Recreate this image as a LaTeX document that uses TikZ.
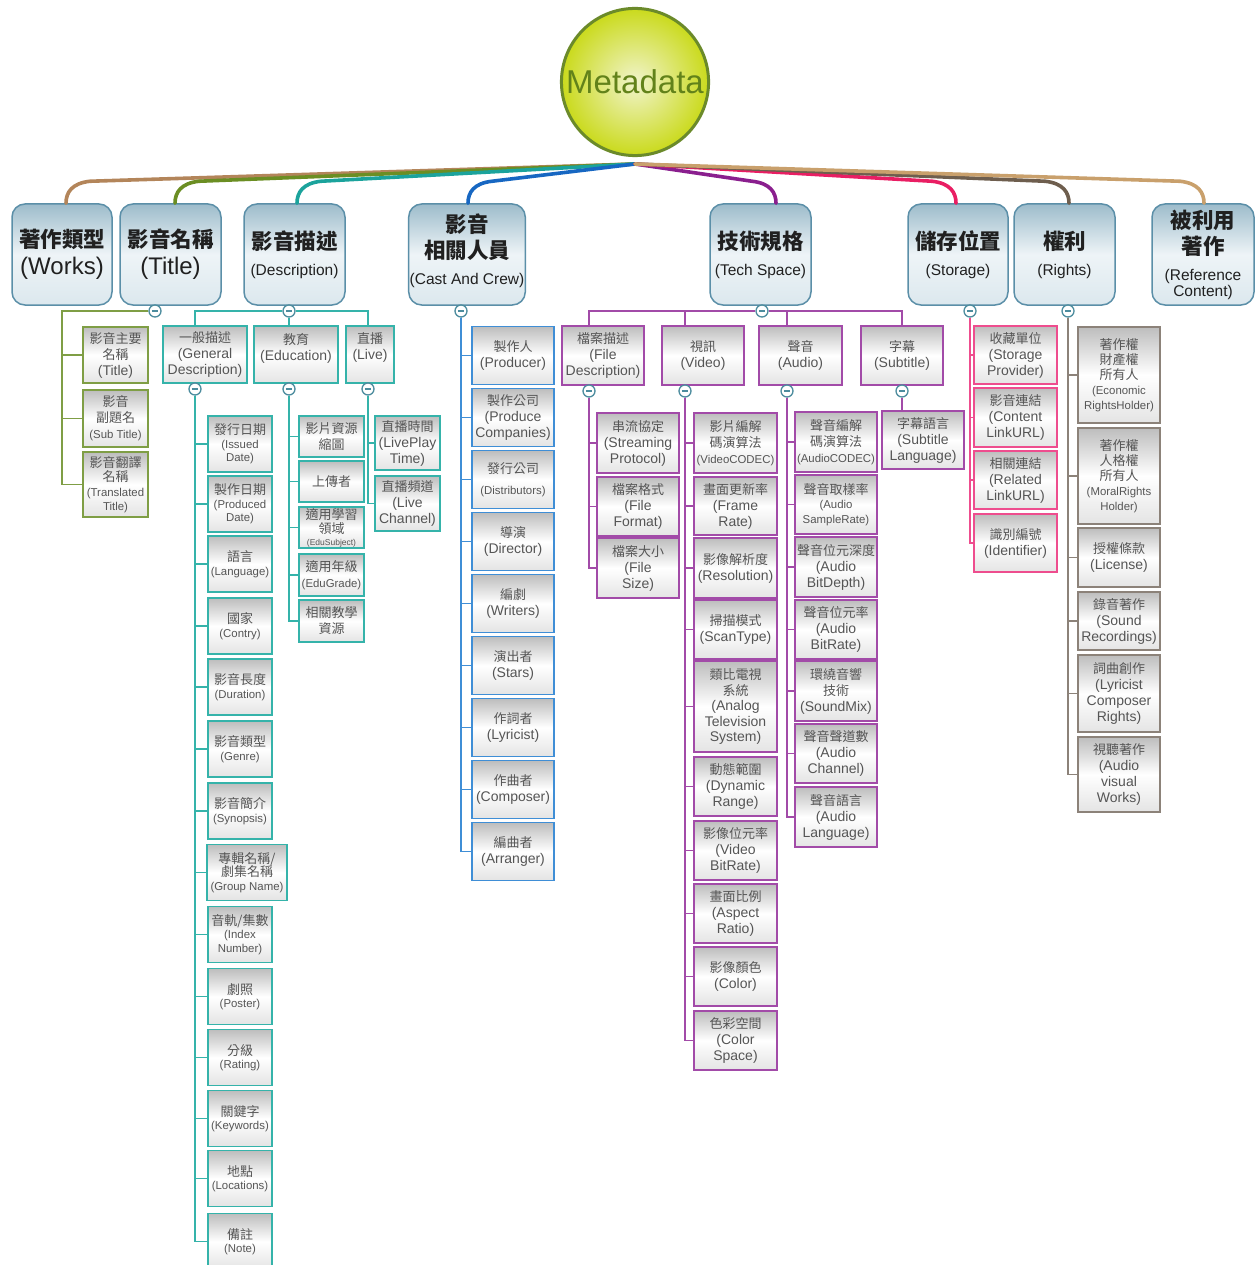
\documentclass[tikz,border=0pt]{standalone}
\usepackage{fontspec}
\setmainfont{Liberation Sans}
\newfontfamily\cjk{Noto Sans CJK TC}
\usetikzlibrary{calc}

% palette
\definecolor{txtgrey}{HTML}{555555}
\definecolor{toptxt}{HTML}{202020}
\definecolor{topedge}{HTML}{5B8FA8}
\definecolor{toptop}{HTML}{9DBCCB}
\definecolor{topmid}{HTML}{EEF4F7}
\definecolor{topbot}{HTML}{DCE8EE}
\definecolor{leaftop}{HTML}{BDBDBD}
\definecolor{leafbot}{HTML}{E4E4E4}
\definecolor{cWorks}{HTML}{B3855A}
\definecolor{cTitle}{HTML}{6B8E23}
\definecolor{cTitleL}{HTML}{7F9E45}
\definecolor{cDesc}{HTML}{1BA39C}
\definecolor{cDescL}{HTML}{35B3AA}
\definecolor{cCast}{HTML}{1767C2}
\definecolor{cCastL}{HTML}{3F8ED6}
\definecolor{cTech}{HTML}{8A1F8E}
\definecolor{cTechL}{HTML}{A24BA8}
\definecolor{cStor}{HTML}{E91E63}
\definecolor{cStorL}{HTML}{EE4D8E}
\definecolor{cRight}{HTML}{6E5E4E}
\definecolor{cRightL}{HTML}{8C8279}
\definecolor{cRef}{HTML}{C9A06C}
\definecolor{togedge}{HTML}{4C8C9E}
\definecolor{metaedge}{HTML}{6B8A2A}
\definecolor{metain}{HTML}{F1F4CC}
\definecolor{metaout}{HTML}{CADA1C}
\definecolor{metatext}{HTML}{62821A}

% text helpers
\newcommand\zl[1]{{\cjk\fontsize{13}{15}\selectfont #1}}
\newcommand\zt[1]{{\cjk\bfseries\fontsize{21.5}{26}\selectfont #1}}
\newcommand\es[1]{{\fontsize{11.4}{13}\selectfont #1}}
\newcommand\et[1]{{\fontsize{8.5}{10}\selectfont #1}}

% curved branch from the root point down into a top-level box
% #1 colour, #2 box, #3 x offset of entry, #4 side (1 = box left of root, -1 = right)
\newcommand\rootbranch[4]{%
  \draw[rootcurve,#1] (root) -- ($(#2.north)+({#3+(#4)*24},-22)$)
    .. controls ($(#2.north)+({#3+(#4)*6},-20)$) and ($(#2.north)+({#3},-11)$)
    .. ($(#2.north)+({#3},0)$);}

\tikzset{
  topbox/.style={draw=topedge, line width=1.5pt, rounded corners=13pt,
    top color=toptop, bottom color=topbot, middle color=topmid,
    minimum height=101pt, align=center, inner sep=1pt, text=toptxt,
    font=\fontsize{15.5}{26}\selectfont},
  leafbox/.style={draw=#1, line width=1.6pt,
    top color=leaftop, bottom color=leafbot, middle color=white,
    align=center, inner sep=1pt, text=txtgrey,
    font=\fontsize{14}{16}\selectfont},
  smallfont/.style={font=\fontsize{11.4}{13.5}\selectfont},
  togglebtn/.style={circle, draw=togedge, fill=white, line width=1.3pt,
    minimum size=12pt, inner sep=0pt,
    path picture={\draw[togedge, line width=1.4pt]
      ([xshift=2.8pt]path picture bounding box.west) --
      ([xshift=-2.8pt]path picture bounding box.east);}},
  rootcurve/.style={line width=3.6pt, line cap=round},
  treeline/.style={draw=#1, line width=1.6pt},
  tl/.style={leafbox=cTitleL, minimum width=65pt},
  dl/.style={leafbox=cDescL},
  gl/.style={leafbox=cDescL, smallfont, minimum width=64pt, minimum height=56pt},
  el/.style={leafbox=cDescL, minimum width=65pt},
  cl/.style={leafbox=cCastL, minimum width=82pt, minimum height=58pt},
  xl/.style={leafbox=cTechL, minimum width=82pt},
  sl/.style={leafbox=cStorL, minimum width=83pt},
  rl/.style={leafbox=cRightL, minimum width=82pt},
}

\begin{document}
\begin{tikzpicture}[x=1pt,y=-1pt]
\useasboundingbox (0,0) rectangle (1257,1265);
\fill[white] (0,0) rectangle (1257,1265);

% root
\node[circle, minimum size=145pt, draw=metaedge, line width=3pt,
  inner color=metain, outer color=metaout, text=metatext,
  font=\fontsize{33}{36}\selectfont] (meta) at (635,82) {Metadata};
\coordinate (root) at (635,164);

% top-level boxes
\node[topbox, minimum width=100pt, font=\fontsize{24}{27}\selectfont] (works) at (62,254.5) {\zt{著作類型}\\(Works)};
\node[topbox, minimum width=101pt, font=\fontsize{24}{27}\selectfont] (title) at (170.5,254.5) {\zt{影音名稱}\\(Title)};
\node[topbox, minimum width=101pt] (desc) at (294.5,254.5) {\zt{影音描述}\\(Description)};
\node[topbox, minimum width=116pt] (cast) at (467,254.5) {\zt{影音}\\\zt{相關人員}\\(Cast And Crew)\\[-16pt]\phantom{X}};
\node[topbox, minimum width=101pt] (tech) at (760.5,254.5) {\zt{技術規格}\\(Tech Space)};
\node[topbox, minimum width=100pt] (stor) at (958,254.5) {\zt{儲存位置}\\(Storage)};
\node[topbox, minimum width=101pt] (rights) at (1064.5,254.5) {\zt{權利}\\(Rights)};
\node[topbox, minimum width=102pt] (ref) at (1203,254.5) {\zt{被利用}\\\zt{著作}\\(Reference\\[-10pt]Content)};

% branches from the root
\rootbranch{cWorks}{works}{4}{1}
\rootbranch{cTitle}{title}{4.5}{1}
\rootbranch{cDesc}{desc}{2.5}{1}
\rootbranch{cCast}{cast}{1}{1}
\rootbranch{cTech}{tech}{15.5}{-1}
\rootbranch{cStor}{stor}{-2}{-1}
\rootbranch{cRight}{rights}{4.5}{-1}
\rootbranch{cRef}{ref}{1}{-1}

% ---- Title
\node[tl, minimum height=56pt] (t1) at (115.5,355) {\zl{影音主要}\\\zl{名稱}\\(Title)};
\node[tl, minimum height=57pt] (t2) at (115.5,418.5) {\zl{影音}\\\zl{副題名}\\\es{(Sub Title)}};
\node[tl, minimum height=65pt, font=\fontsize{14}{14.5}\selectfont] (t3) at (115.5,484.5) {\zl{影音翻譯}\\\zl{名稱}\\\es{(Translated}\\\es{Title)}};

% ---- Description
\node[dl, minimum width=84pt, minimum height=57pt] (gd) at (205,354.5) {\zl{一般描述}\\(General\\Description)};
\node[dl, minimum width=84pt, minimum height=57pt] (edu) at (296,354.5) {\zl{教育}\\(Education)\\\phantom{X}};
\node[dl, minimum width=48pt, minimum height=57pt] (live) at (370,354.5) {\zl{直播}\\(Live)\\\phantom{X}};

\node[gl] (g1) at (240,444) {\zl{發行日期}\\(Issued\\Date)};
\node[gl] (g2) at (240,504) {\zl{製作日期}\\(Produced\\Date)};
\node[gl] (g3) at (240,564) {\zl{語言}\\(Language)};
\node[gl] (g4) at (240,626) {\zl{國家}\\(Contry)};
\node[gl] (g5) at (240,687) {\zl{影音長度}\\(Duration)};
\node[gl] (g6) at (240,749) {\zl{影音類型}\\(Genre)};
\node[gl] (g7) at (240,811) {\zl{影音簡介}\\(Synopsis)};
\node[gl, minimum width=80pt] (g8) at (247,872.5) {\zl{專輯名稱/}\\\zl{劇集名稱}\\(Group Name)};
\node[gl] (g9) at (240,934.5) {\zl{音軌/集數}\\(Index\\Number)};
\node[gl] (g10) at (240,996.5) {\zl{劇照}\\(Poster)};
\node[gl] (g11) at (240,1057.5) {\zl{分級}\\(Rating)};
\node[gl] (g12) at (240,1118.5) {\zl{關鍵字}\\(Keywords)};
\node[gl] (g13) at (240,1178.5) {\zl{地點}\\(Locations)};
\node[gl] (g14) at (240,1241.5) {\zl{備註}\\(Note)};

\node[el, minimum height=41pt] (e1) at (331.5,436.5) {\zl{影片資源}\\\zl{縮圖}};
\node[el, minimum height=41pt] (e2) at (331.5,481.5) {\zl{上傳者}};
\node[el, minimum height=41pt, font=\fontsize{14}{14.5}\selectfont] (e3) at (331.5,527.5) {\zl{適用學習}\\\zl{領域}\\[-3pt]\et{(EduSubject)}};
\node[el, minimum height=42pt] (e4) at (331.5,575) {\zl{適用年級}\\\es{(EduGrade)}};
\node[el, minimum height=42pt] (e5) at (331.5,621) {\zl{相關教學}\\\zl{資源}};

\node[el, minimum height=54pt] (l1) at (407.5,443) {\zl{直播時間}\\(LivePlay\\Time)};
\node[el, minimum height=55pt] (l2) at (407.5,503.5) {\zl{直播頻道}\\(Live\\Channel)};

% ---- Cast and crew
\node[cl] (c1) at (513,355.5) {\zl{製作人}\\(Producer)};
\node[cl] (c2) at (513,417.5) {\zl{製作公司}\\(Produce\\Companies)};
\node[cl] (c3) at (513,479.5) {\zl{發行公司}\\[5pt]\es{(Distributors)}};
\node[cl] (c4) at (513,541.5) {\zl{導演}\\(Director)};
\node[cl] (c5) at (513,603.5) {\zl{編劇}\\(Writers)};
\node[cl] (c6) at (513,665.5) {\zl{演出者}\\(Stars)};
\node[cl] (c7) at (513,727.5) {\zl{作詞者}\\(Lyricist)};
\node[cl] (c8) at (513,789.5) {\zl{作曲者}\\(Composer)};
\node[cl] (c9) at (513,851.5) {\zl{編曲者}\\(Arranger)};

% ---- Tech space
\node[xl, minimum height=59pt] (fd) at (603,355.5) {\zl{檔案描述}\\(File\\Description)};
\node[xl, minimum height=59pt] (vid) at (703,355.5) {\zl{視訊}\\(Video)};
\node[xl, minimum height=59pt, minimum width=83pt] (aud) at (800.5,355.5) {\zl{聲音}\\(Audio)};
\node[xl, minimum height=59pt] (sub) at (902,355.5) {\zl{字幕}\\(Subtitle)};

\node[xl, minimum height=60pt] (f1) at (638,443) {\zl{串流協定}\\(Streaming\\Protocol)};
\node[xl, minimum height=59pt] (f2) at (638,506.5) {\zl{檔案格式}\\(File\\Format)};
\node[xl, minimum height=60pt] (f3) at (638,568) {\zl{檔案大小}\\(File\\Size)};

\node[xl, minimum width=83pt, minimum height=60pt] (v1) at (735.5,443) {\zl{影片編解}\\\zl{碼演算法}\\\es{(VideoCODEC)}};
\node[xl, minimum width=83pt, minimum height=58pt] (v2) at (735.5,506) {\zl{畫面更新率}\\(Frame\\Rate)};
\node[xl, minimum width=83pt, minimum height=60pt] (v3) at (735.5,568) {\zl{影像解析度}\\(Resolution)};
\node[xl, minimum width=83pt, minimum height=59pt] (v4) at (735.5,629.5) {\zl{掃描模式}\\(ScanType)};
\node[xl, minimum width=83pt, minimum height=91pt, font=\fontsize{14}{15.5}\selectfont] (v5) at (735.5,706.5) {\zl{類比電視}\\\zl{系統}\\(Analog\\Television\\System)};
\node[xl, minimum width=83pt, minimum height=59pt] (v6) at (735.5,786.5) {\zl{動態範圍}\\(Dynamic\\Range)};
\node[xl, minimum width=83pt, minimum height=59pt] (v7) at (735.5,850.5) {\zl{影像位元率}\\(Video\\BitRate)};
\node[xl, minimum width=83pt, minimum height=59pt] (v8) at (735.5,913.5) {\zl{畫面比例}\\(Aspect\\Ratio)};
\node[xl, minimum width=83pt, minimum height=59pt] (v9) at (735.5,976.5) {\zl{影像顏色}\\(Color)};
\node[xl, minimum width=83pt, minimum height=59pt] (v10) at (735.5,1040.5) {\zl{色彩空間}\\(Color\\Space)};

\node[xl, minimum height=60pt] (a1) at (836,442) {\zl{聲音編解}\\\zl{碼演算法}\\\es{(AudioCODEC)}};
\node[xl, minimum height=59pt, font=\fontsize{14}{14.5}\selectfont] (a2) at (836,504.5) {\zl{聲音取樣率}\\\es{(Audio}\\\es{SampleRate)}};
\node[xl, minimum height=60pt] (a3) at (836,567) {\zl{聲音位元深度}\\(Audio\\BitDepth)};
\node[xl, minimum height=59pt] (a4) at (836,629.5) {\zl{聲音位元率}\\(Audio\\BitRate)};
\node[xl, minimum height=60pt] (a5) at (836,691) {\zl{環繞音響}\\\zl{技術}\\(SoundMix)};
\node[xl, minimum height=59pt] (a6) at (836,753.5) {\zl{聲音聲道數}\\(Audio\\Channel)};
\node[xl, minimum height=60pt] (a7) at (836,817) {\zl{聲音語言}\\(Audio\\Language)};

\node[xl, minimum height=58pt] (s0) at (923,440) {\zl{字幕語言}\\(Subtitle\\Language)};

% ---- Storage
\node[sl, minimum height=58pt] (s1) at (1015.5,355) {\zl{收藏單位}\\(Storage\\Provider)};
\node[sl, minimum height=59pt] (s2) at (1015.5,417.5) {\zl{影音連結}\\(Content\\LinkURL)};
\node[sl, minimum height=58pt] (s3) at (1015.5,480) {\zl{相關連結}\\(Related\\LinkURL)};
\node[sl, minimum height=58pt] (s4) at (1015.5,543) {\zl{識別編號}\\(Identifier)};

% ---- Rights
\node[rl, minimum height=96pt, font=\fontsize{14}{15}\selectfont] (r1) at (1119,375) {\zl{著作權}\\\zl{財產權}\\\zl{所有人}\\\es{(Economic}\\\es{RightsHolder)}};
\node[rl, minimum height=96pt, font=\fontsize{14}{15}\selectfont] (r2) at (1119,476) {\zl{著作權}\\\zl{人格權}\\\zl{所有人}\\\es{(MoralRights}\\\es{Holder)}};
\node[rl, minimum height=59pt] (r3) at (1119,557.5) {\zl{授權條款}\\(License)};
\node[rl, minimum height=58pt] (r4) at (1119,621) {\zl{錄音著作}\\(Sound\\Recordings)};
\node[rl, minimum height=77pt] (r5) at (1119,693.5) {\zl{詞曲創作}\\(Lyricist\\Composer\\Rights)};
\node[rl, minimum height=75pt] (r6) at (1119,774.5) {\zl{視聽著作}\\(Audio\\visual\\Works)};

% collapse toggles
\node[togglebtn] (titlem) at (155,311) {};
\node[togglebtn] (descm) at (289,311) {};
\node[togglebtn] (castm) at (461,311) {};
\node[togglebtn] (techm) at (762,311) {};
\node[togglebtn] (storm) at (970,311) {};
\node[togglebtn] (rightm) at (1068,311) {};
\node[togglebtn] (gdm) at (195,389) {};
\node[togglebtn] (edum) at (289,389) {};
\node[togglebtn] (livem) at (368,389) {};
\node[togglebtn] (fdm) at (589,391) {};
\node[togglebtn] (vidm) at (685,391) {};
\node[togglebtn] (audm) at (787,391) {};
\node[togglebtn] (subm) at (902,391) {};

% tree connectors
\coordinate (tcorner) at (62,311);
\foreach \i in {1,2,3} \draw[treeline=cTitleL] (titlem) -- (tcorner) |- (t\i.west);

\draw[treeline=cDescL] (descm) -| (gd.north -| gdm);
\draw[treeline=cDescL] (descm) -- (edu.north -| edum);
\draw[treeline=cDescL] (descm) -| (live.north -| livem);
\foreach \i in {1,...,14} \draw[treeline=cDescL] (gdm) |- (g\i.west);
\foreach \i in {1,...,5} \draw[treeline=cDescL] (edum) |- (e\i.west);
\foreach \i in {1,2} \draw[treeline=cDescL] (livem) |- (l\i.west);

\foreach \i in {1,...,9} \draw[treeline=cCastL] (castm) |- (c\i.west);

\draw[treeline=cTechL] (techm) -| (fd.north -| fdm);
\draw[treeline=cTechL] (techm) -| (vid.north -| vidm);
\draw[treeline=cTechL] (techm) -| (aud.north -| audm);
\draw[treeline=cTechL] (techm) -| (sub.north -| subm);
\foreach \i in {1,2,3} \draw[treeline=cTechL] (fdm) |- (f\i.west);
\foreach \i in {1,...,10} \draw[treeline=cTechL] (vidm) |- (v\i.west);
\foreach \i in {1,...,7} \draw[treeline=cTechL] (audm) |- (a\i.west);
\draw[treeline=cTechL] (subm) -- (s0.north -| subm);

\foreach \i in {1,...,4} \draw[treeline=cStorL] (storm) |- (s\i.west);
\foreach \i in {1,...,6} \draw[treeline=cRightL] (rightm) |- (r\i.west);

\end{tikzpicture}
\end{document}
